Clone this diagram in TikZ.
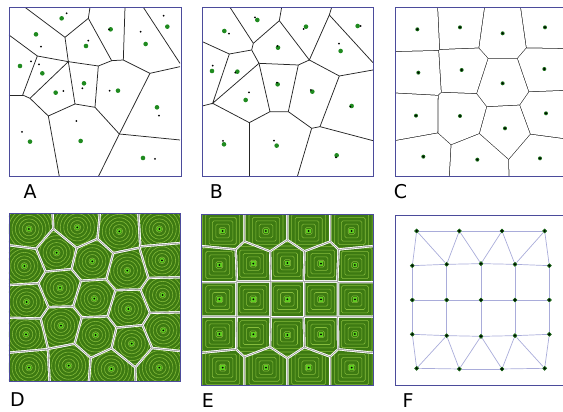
\documentclass[tikz,border=0pt]{standalone}
\usepackage{fontspec}
\setsansfont{DejaVu Sans}
\usetikzlibrary{calc}
\definecolor{frm}{HTML}{4B4B9B}
\definecolor{dotgreen}{HTML}{1F8A1F}
\definecolor{cellgreen}{HTML}{3D7A12}
\definecolor{ringgreen}{HTML}{86BC3C}
\definecolor{glow}{HTML}{5FD020}
\definecolor{seam}{HTML}{8C8C8C}
\definecolor{lavender}{HTML}{A9ACDA}
\tikzset{
  panel/.style    = {draw=frm, line width=0.9pt},
  vedge/.style    = {draw=black!85, line width=0.75pt},
  ring/.style     = {draw=ringgreen, line width=0.55pt},
  fnode/.style    = {circle, fill=black, draw=dotgreen!70!black, line width=0.8pt,
                     inner sep=0pt, minimum size=3.8pt},
  delaunay/.style = {draw=lavender, line width=0.7pt},
  lbl/.style      = {font=\sffamily\fontsize{19}{20}\selectfont, inner sep=0pt},
}
% clip to the Voronoi cell of site #1#2 among #1 1..#3, shrunk by #4
\newcommand{\voroclip}[4]{%
  \foreach \j in {1,...,#3}{%
    \ifnum\j=#2\relax\else
      \coordinate (vm) at ($(#1#2)!0.5!(#1\j)$);
      \coordinate (vm) at ($(vm)!#4!180:(#1\j)$);
      \clip ($(vm)!800pt!90:(#1\j)$) -- ($(vm)!800pt!180:(#1\j)$)
        -- ($(vm)!800pt!270:(#1\j)$) -- cycle;
    \fi}}

\begin{document}
\begin{tikzpicture}[x=1pt, y=-1pt]
  \useasboundingbox (0,0) rectangle (563,412);

  % A: random sites
  \begin{scope}[shift={(0,0)}, x=0.3333pt, y=-0.3333pt]
    \draw[vedge] (75,22)--(195,112)--(205,185);
    \draw[vedge] (270,22)--(265,55)--(195,112);
    \draw[vedge] (265,55)--(335,182)--(370,180)--(450,220)--(540,200);
    \draw[vedge] (375,22)--(370,180);
    \draw[vedge] (430,22)--(540,190);
    \draw[vedge] (27,105)--(112,168)--(205,185)--(295,198)--(335,182);
    \draw[vedge] (112,168)--(68,285)--(90,295)--(205,185)--(225,312)--(285,322)--(295,198);
    \draw[vedge] (27,285)--(68,285);
    \draw[vedge] (90,295)--(145,348)--(225,312);
    \draw[vedge] (145,348)--(178,530);
    \draw[vedge] (285,322)--(358,402)--(450,220);
    \draw[vedge] (295,530)--(358,402)--(540,420);
    \foreach \x/\y in {185/55,108/103,258/138,332/88,437/132,502/80,60/198,127/220,
                       252/250,167/278,354/272,471/322,90/425,242/423,429/474}
      \fill[dotgreen] (\x,\y) circle[radius=2.3pt];
    \foreach \x/\y in {200/40,123/140,93/184,117/193,265/122,327/88,422/95,491/47,
                       190/273,247/265,329/272,477/347,66/396,229/363,465/477}
      \fill (\x,\y) circle[radius=1pt];
    \draw[panel] (27,22) rectangle (543,530);
  \end{scope}

  % B: one step further
  \begin{scope}[shift={(190,0)}, x=0.3333pt, y=-0.3333pt]
    \draw[vedge] (120,22)--(190,130)--(185,150)--(207,190)--(325,195)--(358,180)--(448,228)--(549,210);
    \draw[vedge] (275,22)--(268,62)--(190,130);
    \draw[vedge] (268,62)--(358,180);
    \draw[vedge] (425,22)--(418,45)--(549,188);
    \draw[vedge] (418,45)--(358,180);
    \draw[vedge] (37,125)--(118,162)--(185,150);
    \draw[vedge] (118,162)--(68,310)--(207,190);
    \draw[vedge] (37,318)--(68,310)--(178,368)--(240,335)--(207,190);
    \draw[vedge] (240,335)--(295,335)--(325,195);
    \draw[vedge] (178,368)--(178,530);
    \draw[vedge] (295,335)--(365,385)--(390,380)--(448,228);
    \draw[vedge] (390,380)--(549,422);
    \draw[vedge] (365,385)--(322,530);
    \foreach \x/\y in {103/93,202/60,264/143,348/80,503/78,452/153,66/213,142/215,
                       263/253,367/275,167/300,485/318,102/433,260/437,440/466}
      \fill[dotgreen] (\x,\y) circle[radius=2.3pt];
    \foreach \x/\y in {195/52,117/101,262/138,341/87,512/78,447/131,68/197,136/218,
                       261/248,363/270,177/277,481/320,99/423,252/422,438/472}
      \fill (\x,\y) circle[radius=1pt];
    \draw[panel] (37,22) rectangle (549,530);
  \end{scope}

  % C: converged
  \begin{scope}[shift={(380,0)}, x=0.3333pt, y=-0.3333pt]
    \foreach \x/\y [count=\k] in {112/88,240/82,368/100,495/82,115/218,245/210,368/250,
                                  493/207,108/347,240/348,375/385,498/340,130/470,
                                  292/479,480/475}
      \coordinate (C\k) at (\x,\y);
    \fill[black!85] (45,22) rectangle (562,530);
    \foreach \i in {1,...,15}{
      \begin{scope}
        \clip (45,22) rectangle (562,530);
        \voroclip{C}{\i}{15}{0.38pt}
        \fill[white] (45,22) rectangle (562,530);
      \end{scope}
      \fill[dotgreen!80!black] (C\i) circle[radius=2pt];
      \fill (C\i) circle[radius=1.1pt];
    }
    \draw[panel] (45,22) rectangle (562,530);
  \end{scope}

  % D: round distance
  \begin{scope}[shift={(0,205)}, x=0.3333pt, y=-0.3333pt]
    \foreach \x/\y [count=\k] in {87/72,232/67,358/79,478/72,
                                  73/183,170/143,277/169,382/197,486/166,
                                  80/291,180/249,283/281,385/312,488/270,
                                  78/388,183/362,287/390,395/416,490/376,
                                  87/488,206/482,334/492,478/488}
      \coordinate (D\k) at (\x,\y);
    \fill[seam] (27,25) rectangle (540,530);
    \foreach \i in {1,...,23}{
      \begin{scope}
        \clip (27,25) rectangle (540,530);
        \voroclip{D}{\i}{23}{0.4pt}
        \fill[white] (27,25) rectangle (540,530);
        \voroclip{D}{\i}{23}{1.3pt}
        \fill[cellgreen] (27,25) rectangle (540,530);
        \foreach \r in {3.4,6.8,...,34}
          \draw[ring] (D\i) circle[radius=\r pt];
      \end{scope}
      \fill[glow] (D\i) circle[radius=2.4pt];
      \fill (D\i) circle[radius=1pt];
    }
    \draw[panel] (27,25) rectangle (540,530);
  \end{scope}

  % E: square distance
  \begin{scope}[shift={(190,205)}, x=0.3333pt, y=-0.3333pt]
    \foreach \x/\y [count=\k] in {98/78,228/78,356/78,485/78,
                                  88/180,190/176,292/174,393/176,495/180,
                                  88/283,190/283,292/283,393/283,495/283,
                                  88/387,190/388,292/390,393/388,495/387,
                                  98/488,228/488,356/488,485/488}
      \coordinate (E\k) at (\x,\y);
    \fill[seam] (35,28) rectangle (549,540);
    \foreach \i in {1,...,23}{
      \begin{scope}
        \clip (35,28) rectangle (549,540);
        \voroclip{E}{\i}{23}{0.4pt}
        \fill[white] (35,28) rectangle (549,540);
        \voroclip{E}{\i}{23}{1.3pt}
        \fill[cellgreen] (35,28) rectangle (549,540);
        \foreach \h in {3.4,6.8,...,30}
          \draw[ring, rounded corners=1.5pt] ([shift={(-\h pt,-\h pt)}]E\i) rectangle ([shift={(\h pt,\h pt)}]E\i);
      \end{scope}
      \fill[glow] ([shift={(-2.2pt,-2.2pt)}]E\i) rectangle ([shift={(2.2pt,2.2pt)}]E\i);
      \fill (E\i) circle[radius=1pt];
    }
    \draw[panel] (35,28) rectangle (549,540);
  \end{scope}

  % F: dual triangulation
  \begin{scope}[shift={(380,205)}, x=0.3333pt, y=-0.3333pt]
    \draw[panel] (45,30) rectangle (562,540);
    \foreach \x/\y [count=\k] in {110/78,238/78,366/78,494/78,
                                  97/182,200/178,303/176,405/178,508/182,
                                  97/285,200/285,303/285,405/285,508/285,
                                  97/388,200/392,303/394,405/392,508/388,
                                  110/490,238/492,366/492,494/490}
      \node[fnode] (F\k) at (\x,\y) {};
    \foreach \a/\b in {1/2,2/3,3/4, 1/5,1/6,2/6,2/7,3/7,3/8,4/8,4/9,
                       5/6,6/7,7/8,8/9, 5/10,6/11,7/12,8/13,9/14,
                       10/11,11/12,12/13,13/14, 10/15,11/16,12/17,13/18,14/19,
                       15/16,16/17,17/18,18/19, 15/20,16/20,16/21,17/21,17/22,18/22,18/23,19/23,
                       20/21,21/22,22/23}
      \draw[delaunay] (F\a) -- (F\b);
  \end{scope}

  \node[lbl] (labA) at (30,192) {A};
  \node[lbl] (labB) at (216.5,192) {B};
  \node[lbl] (labC) at (400.5,192) {C};
  \node[lbl] (labD) at (17.5,400) {D};
  \node[lbl] (labE) at (208,401) {E};
  \node[lbl] (labF) at (408,401) {F};
\end{tikzpicture}
\end{document}
